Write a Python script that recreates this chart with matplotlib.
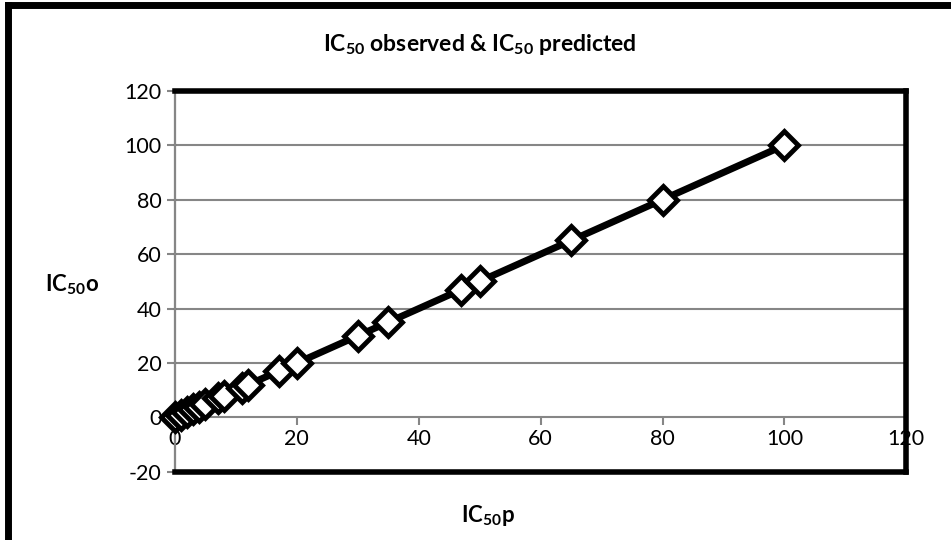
import matplotlib
matplotlib.use('Agg')
import matplotlib.pyplot as plt
from matplotlib.lines import Line2D

# data (predicted vs observed IC50)
ic50_pred = [0, 1, 2, 3, 4, 5, 7, 8, 11, 12, 17, 20, 30, 35, 47, 50, 65, 80, 100]
ic50_obs = [0, 1, 2, 3, 4, 5, 7, 8, 11, 12, 17, 20, 30, 35, 47, 50, 65, 80, 100]
xticks = [0, 20, 40, 60, 80, 100, 120]
yticks = [-20, 0, 20, 40, 60, 80, 100, 120]

plt.rcParams['font.family'] = ['Lato', 'DejaVu Sans']
plt.rcParams['mathtext.fontset'] = 'custom'
plt.rcParams['mathtext.rm'] = 'Lato:bold'
plt.rcParams['mathtext.it'] = 'Lato:bold'
plt.rcParams['mathtext.bf'] = 'Lato:bold'
plt.rcParams['axes.unicode_minus'] = False

fig = plt.figure(figsize=(9.51, 5.40), dpi=100)
ax = fig.add_axes([0.184, 0.126, 0.769, 0.706])

grey = '#868686'
for y in yticks[2:]:
    ax.axhline(y, color=grey, lw=1.5, zorder=1)

ax.plot(ic50_pred, ic50_obs, color='black', lw=5, marker='D', markersize=14,
        markerfacecolor='white', markeredgecolor='black', markeredgewidth=3.5,
        zorder=3, clip_on=False)

ax.set_xlim(0, 120)
ax.set_ylim(-20, 120)
ax.set_xticks(xticks)
ax.set_yticks(yticks)

# x axis crosses at zero
ax.spines['bottom'].set_position(('data', 0))
ax.spines['bottom'].set_color(grey)
ax.spines['bottom'].set_linewidth(1.5)
ax.spines['left'].set_color(grey)
ax.spines['left'].set_linewidth(1.5)
ax.spines['top'].set_visible(False)
ax.spines['right'].set_visible(False)
ax.tick_params(axis='both', colors=grey, length=6, width=1.5, labelcolor='black',
               labelsize=15.5)
ax.tick_params(axis='x', pad=2)

# thick plot-area frame
frame_kw = dict(color='black', lw=4, transform=ax.transAxes, clip_on=False, zorder=4,
                solid_capstyle='projecting')
ax.add_line(Line2D([0, 1], [1, 1], **frame_kw))
ax.add_line(Line2D([1, 1], [0, 1], **frame_kw))
ax.add_line(Line2D([0, 1], [0, 0], **frame_kw))
ax.add_line(Line2D([0, 0], [0, 1], color='black', lw=1.5, transform=ax.transAxes,
                   clip_on=False, zorder=2))

# chart border (cut at right and bottom)
fig.add_artist(Line2D([0.008, 0.008], [0.99, -0.1], color='black', lw=5,
                      transform=fig.transFigure))
fig.add_artist(Line2D([0.008, 1.1], [0.99, 0.99], color='black', lw=5,
                      transform=fig.transFigure))

fig.text(0.504, 0.917, r'IC$_{50}$ observed & IC$_{50}$ predicted', ha='center',
         va='center', fontsize=16.5, fontweight='bold')
fig.text(0.513, 0.046, r'IC$_{50}$p', ha='center', va='center', fontsize=16,
         fontweight='bold')
fig.text(0.076, 0.472, r'IC$_{50}$o', ha='center', va='center', fontsize=16,
         fontweight='bold')

fig.savefig('out.png', dpi=100)
